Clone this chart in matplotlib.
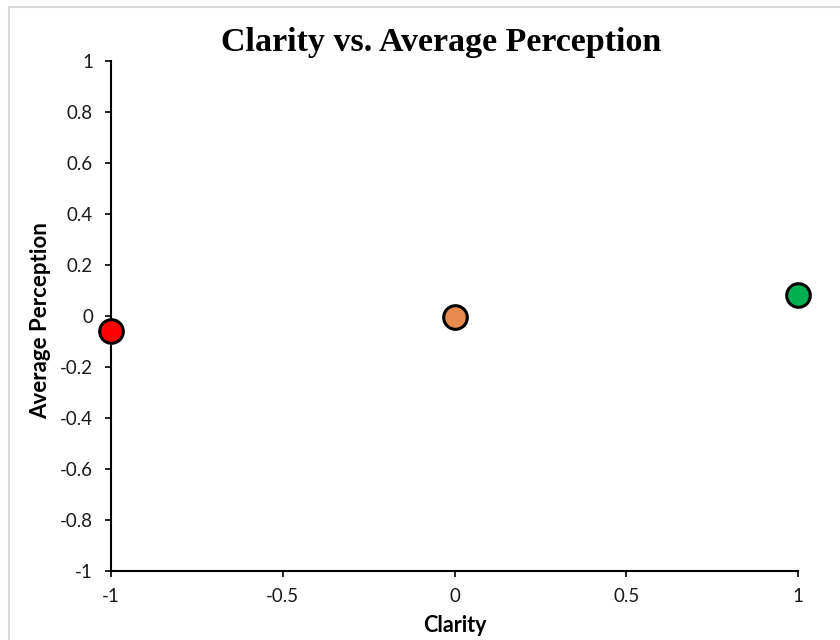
import matplotlib
matplotlib.use("Agg")
import matplotlib.pyplot as plt
from matplotlib.patches import Rectangle

clarity = [-1, 0, 1]
perception = [-0.058, -0.005, 0.082]
colors = ["#FF0000", "#E8894D", "#00B050"]
x_ticks = [-1, -0.5, 0, 0.5, 1]
x_tick_labels = ["-1", "-0.5", "0", "0.5", "1"]
y_ticks = [-1, -0.8, -0.6, -0.4, -0.2, 0, 0.2, 0.4, 0.6, 0.8, 1]
y_tick_labels = ["-1", "-0.8", "-0.6", "-0.4", "-0.2", "0", "0.2", "0.4", "0.6", "0.8", "1"]

W, H = 840, 640
fig = plt.figure(figsize=(W / 100, H / 100), dpi=100)
fig.patch.set_facecolor("white")

# light border like the Excel chart area
fig.patches.append(Rectangle((9 / W, -0.05), 1.2, 1 - 7 / H + 0.05, transform=fig.transFigure,
                             fill=False, edgecolor="#D9D9D9", linewidth=1.5, zorder=0))

ax = fig.add_axes([111 / W, 1 - 571 / H, (798 - 111) / W, (571 - 61) / H])
for xv, yv, c in zip(clarity, perception, colors):
    ax.plot([xv], [yv], marker="o", linestyle="none", markersize=17,
            markerfacecolor=c, markeredgecolor="black", markeredgewidth=2.2,
            clip_on=False, zorder=5)

ax.set_xlim(-1, 1)
ax.set_ylim(-1, 1)
ax.set_xticks(x_ticks)
ax.set_xticklabels(x_tick_labels)
ax.set_yticks(y_ticks)
ax.set_yticklabels(y_tick_labels)

for s in ["top", "right"]:
    ax.spines[s].set_visible(False)
for s in ["left", "bottom"]:
    ax.spines[s].set_linewidth(1.5)
    ax.spines[s].set_color("black")

ax.tick_params(axis="both", direction="out", length=4, width=1.2, color="black",
               labelsize=13.5, labelcolor="#1a1a1a")
ax.tick_params(axis="y", pad=9)
ax.tick_params(axis="x", pad=8)
for lab in ax.get_xticklabels() + ax.get_yticklabels():
    lab.set_family("Lato")

fig.text(441 / W, 1 - 42 / H, "Clarity vs. Average Perception", ha="center", va="center",
         fontsize=24.5, fontweight="bold", family="Liberation Serif", color="black")
fig.text(455 / W, 1 - 626 / H, "Clarity", ha="center", va="center",
         fontsize=15.5, fontweight="bold", family="Lato", color="black")
fig.text(41 / W, 1 - 321 / H, "Average Perception", ha="center", va="center", rotation=90,
         fontsize=16, fontweight="bold", family="Lato", color="black")

fig.savefig("out.png", dpi=100)
